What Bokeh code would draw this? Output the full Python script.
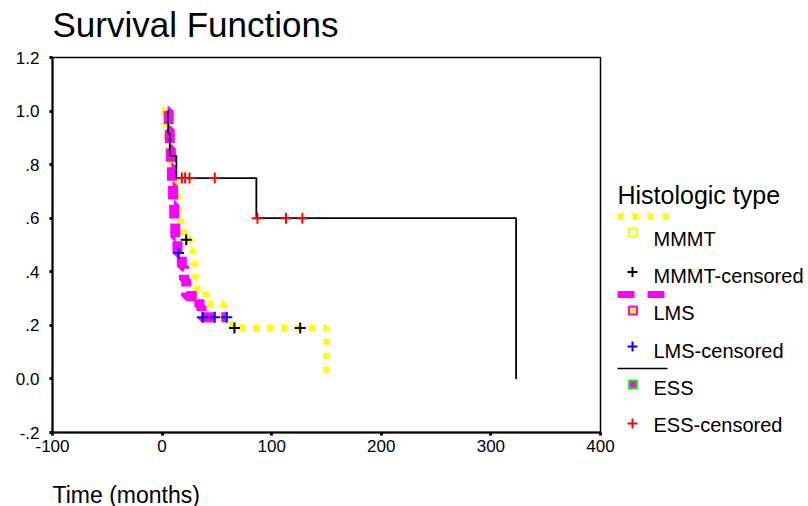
from bokeh.plotting import figure
from bokeh.models import Range1d, FixedTicker, CustomJSTickFormatter
from bokeh.layouts import row, column
from bokeh.embed import file_html
from bokeh.resources import INLINE
from bokeh.core.properties import value

FONT = "Liberation Sans"

# ---------------- data ----------------
x_ticks = [-100, 0, 100, 200, 300, 400]
y_ticks = [-0.2, 0.0, 0.2, 0.4, 0.6, 0.8, 1.0, 1.2]

# MMMT (step curve, survival after each time)
mmmt_time = [0, 2, 4, 6, 8, 10, 12, 14, 15, 17, 20, 26, 28, 30, 32, 40, 56, 64, 150]
mmmt_surv = [1.0, .95, .90, .85, .80, .75, .70, .65, .60, .56, .52, .48, .43, .38, .33, .28, .23, .19, 0.0]
mmmt_cens_time = [22, 66, 126]
mmmt_cens_surv = [.52, .19, .19]

# LMS
lms_time = [5, 6, 7, 8, 9, 10, 11, 12, 14, 18, 20, 22, 34, 36, 59]
lms_surv = [1.0, .93, .86, .79, .72, .65, .59, .53, .47, .42, .37, .31, .27, .23, .23]
lms_cens_time = [15, 37, 48, 59]
lms_cens_surv = [.47, .23, .23, .23]

# ESS
ess_time = [5, 5.5, 7, 13, 86, 323]
ess_surv = [1.0, .917, .833, .75, .60, 0.0]
ess_cens_time = [18, 21, 25, 48, 87, 113, 128]
ess_cens_surv = [.75, .75, .75, .75, .60, .60, .60]

chart_title = "Survival Functions"
x_label = "Time (months)"
legend_title = "Histologic type"
legend_labels = ["MMMT", "MMMT-censored", "LMS", "LMS-censored", "ESS", "ESS-censored"]

YELLOW = "#FFFF00"
MAGENTA = "#FF00FF"


def blank(width, height, xr, yr, **kw):
    f = figure(width=width, height=height, x_range=xr, y_range=yr,
               output_backend="svg", toolbar_location=None,
               x_axis_type=None, y_axis_type=None, **kw)
    f.outline_line_color = None
    f.grid.visible = False
    f.background_fill_color = "white"
    f.border_fill_color = "white"
    return f


# ---------------- header with the chart title (page-pixel coordinates) ----------------
hd = blank(806, 48, Range1d(0, 806), Range1d(48, 0), min_border=0)
hd.text(x=[52], y=[24], text=[chart_title], text_font=value(FONT), text_font_size="35px",
        text_baseline="middle", text_align="left", text_color="black")

# ---------------- main plot ----------------
p = figure(width=616, height=430, x_range=Range1d(-100, 400), y_range=Range1d(-0.2, 1.2),
           output_backend="svg", toolbar_location=None,
           min_border_left=52, min_border_top=9, min_border_right=16, min_border_bottom=46)

p.grid.visible = False
p.outline_line_color = "black"
p.outline_line_width = 1.5
p.background_fill_color = "white"
p.border_fill_color = "white"

p.xaxis.ticker = FixedTicker(ticks=x_ticks)
p.yaxis.ticker = FixedTicker(ticks=y_ticks)
p.xaxis.formatter = CustomJSTickFormatter(code="return tick.toFixed(0);")
p.yaxis.formatter = CustomJSTickFormatter(code="""
const s = tick.toFixed(1);
if (Math.abs(tick) < 1e-9) return "0.0";
if (Math.abs(tick) >= 1) return s;
return s.replace("0.", ".");
""")
for ax in (p.xaxis, p.yaxis):
    ax.axis_line_width = 2
    ax.axis_line_color = "black"
    ax.major_tick_in = 0
    ax.major_tick_out = 3
    ax.major_tick_line_width = 3
    ax.major_tick_line_color = "black"
    ax.minor_tick_line_color = None
    ax.major_label_text_font = FONT
    ax.major_label_text_font_size = "17px"
    ax.major_label_text_color = "black"
p.yaxis.major_label_standoff = 10
p.xaxis.major_label_standoff = 4

p.step(mmmt_time, mmmt_surv, mode="after", line_color=YELLOW, line_width=7,
       line_dash="6 8", line_cap="butt")
p.step(lms_time, lms_surv, mode="after", line_color=MAGENTA, line_width=10,
       line_dash="14 6", line_cap="butt")
p.step(ess_time, ess_surv, mode="after", line_color="black", line_width=1.8)

p.scatter(mmmt_cens_time, mmmt_cens_surv, marker="cross", size=11, line_width=2, line_color="black")
p.scatter(lms_cens_time, lms_cens_surv, marker="cross", size=11, line_width=2, line_color="blue")
p.scatter(ess_cens_time, ess_cens_surv, marker="cross", size=11, line_width=2, line_color="red")

# ---------------- legend panel (page-pixel coordinates; frame aligned with main frame) ----------------
lg = blank(190, 430, Range1d(616, 806), Range1d(432, 57),
           min_border_left=0, min_border_right=0, min_border_top=9, min_border_bottom=46)

lg.text(x=[617], y=[194], text=[legend_title], text_font=value(FONT), text_font_size="25px",
        text_baseline="middle", text_align="left", text_color="black")

text_y = [238, 275, 312, 350, 387, 424]
lg.text(x=[653] * 6, y=text_y, text=legend_labels, text_font=value(FONT), text_font_size="20px",
        text_baseline="middle", text_align="left", text_color="black")

# swatches
lg.line([617, 668], [216, 216], line_color=YELLOW, line_width=7, line_dash="6 9", line_cap="butt")
lg.line([617, 668], [294, 294], line_color=MAGENTA, line_width=7, line_dash="17 13", line_cap="butt")
lg.line([617, 667], [368, 368], line_color="black", line_width=1.6)

lg.scatter([632.5], [232], marker="square", size=8, fill_color="white", line_color=YELLOW, line_width=2)
lg.scatter([632.5], [310], marker="square", size=8, fill_color=YELLOW, line_color=MAGENTA, line_width=2)
lg.scatter([632.5], [384], marker="square", size=8, fill_color=MAGENTA, line_color="#00FF00", line_width=2)

lg.scatter([632], [271.5], marker="cross", size=10, line_width=2, line_color="black")
lg.scatter([632], [346], marker="cross", size=10, line_width=2, line_color="blue")
lg.scatter([632], [423], marker="cross", size=10, line_width=2, line_color="red")

# ---------------- footer with the x-axis title (page-pixel coordinates) ----------------
ft = blank(806, 28, Range1d(0, 806), Range1d(506, 478), min_border=0)
ft.text(x=[52], y=[494], text=[x_label], text_font=value(FONT), text_font_size="23px",
        text_baseline="middle", text_align="left", text_color="black")

layout = column(hd, row(p, lg, spacing=0), ft, spacing=0)
open("out.html", "w").write(file_html(layout, INLINE))
